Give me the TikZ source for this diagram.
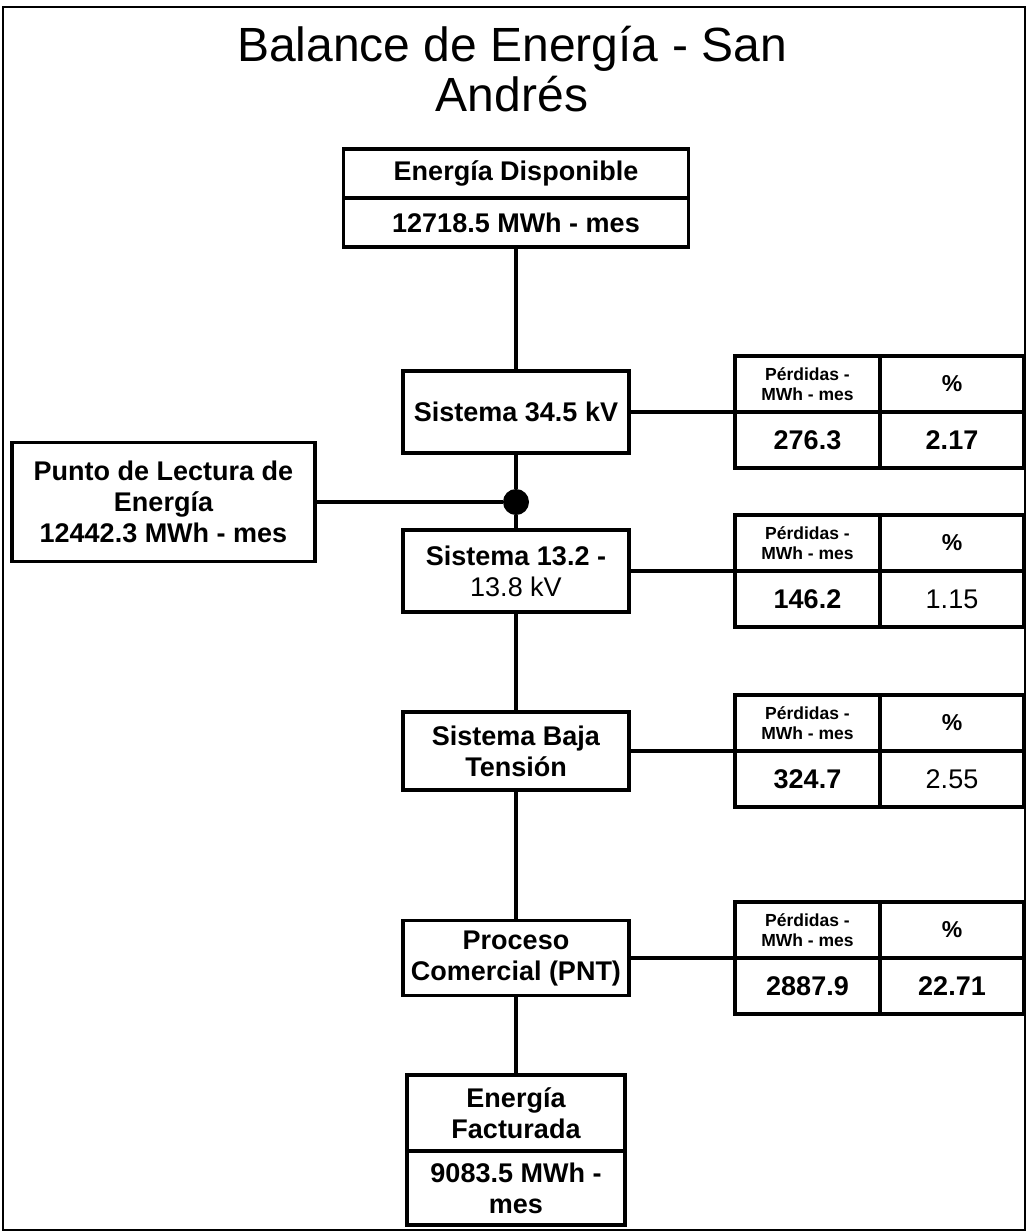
\documentclass[tikz,border=0pt]{standalone}
\usepackage{fontspec}
\setmainfont{Liberation Sans}

\begin{document}
\begin{tikzpicture}[x=1pt, y=-1pt,
    caja/.style={draw, line width=3.5pt, align=center, inner sep=0pt, outer sep=0pt,
      minimum width=226pt, font=\bfseries\fontsize{27}{31}\selectfont},
    celda/.style={draw, line width=3.5pt, align=center, inner sep=0pt, outer sep=0pt,
      minimum width=145pt, minimum height=56pt},
    linea/.style={line width=4.5pt}]
  \useasboundingbox (0,0) rectangle (1027,1232);
  \draw[line width=1.5pt] (3,7) rectangle (1025,1230);

  % titulo
  \node[align=center, font=\fontsize{48}{50}\selectfont] (titulo) at (512,69)
    {Balance de Energía - San\\Andrés};

  % columna central
  \node[caja, minimum width=345pt, minimum height=49pt] (disp1) at (516,173.5) {Energía Disponible};
  \node[caja, minimum width=345pt, minimum height=49pt] (disp2) at (516,222.5) {12718.5 MWh - mes};
  \node[caja, minimum height=82pt] (s345) at (516,412) {Sistema 34.5 kV};
  \node[caja, minimum height=82pt] (s132) at (516,571) {Sistema 13.2 -\\{\mdseries 13.8 kV}};
  \node[caja, minimum height=78pt] (baja) at (516,751) {Sistema Baja\\Tensión};
  \node[caja, minimum height=75pt] (proc) at (516,958) {Proceso\\Comercial (PNT)};
  \node[caja, minimum width=218pt, minimum height=76pt] (fact1) at (516,1113) {Energía\\Facturada};
  \node[caja, minimum width=218pt, minimum height=74pt] (fact2) at (516,1188) {9083.5 MWh -\\mes};

  % punto de lectura
  \node[caja, minimum width=303pt, minimum height=119pt] (punto) at (163.5,502)
    {Punto de Lectura de\\Energía\\12442.3 MWh - mes};
  \node[circle, fill, minimum size=26pt, inner sep=0pt] (nodo) at (516,502) {};

  % tablas de perdidas
  \foreach \n/\t/\perd/\pct in {a/356/276.3/2.17, b/515/146.2/\mdseries 1.15,
                                c/695/324.7/\mdseries 2.55, d/902/2887.9/22.71} {
    \node[celda, font=\bfseries\fontsize{17.5}{20}\selectfont] (perd\n) at (807.5,\t+28) {Pérdidas -\\MWh - mes};
    \node[celda, minimum width=144pt, font=\bfseries\fontsize{23}{26}\selectfont] (pct\n) at (952,\t+28) {\%};
    \node[celda, font=\bfseries\fontsize{27}{30}\selectfont] (vperd\n) at (807.5,\t+84) {\perd};
    \node[celda, minimum width=144pt, font=\bfseries\fontsize{27}{30}\selectfont] (vpct\n) at (952,\t+84) {\pct};
  }

  % conexiones
  \draw[linea] (disp2.south) -- (s345.north);
  \draw[linea] (s345.south) -- (nodo) -- (s132.north);
  \draw[linea] (punto.east) -- (nodo);
  \draw[linea] (s132.south) -- (baja.north);
  \draw[linea] (baja.south) -- (proc.north);
  \draw[linea] (proc.south) -- (fact1.north);
  \draw[linea] (s345.east) -- (perda.south west);
  \draw[linea] (s132.east) -- (perdb.south west);
  \draw[linea] (baja.east) -- (perdc.south west);
  \draw[linea] (proc.east) -- (perdd.south west);
\end{tikzpicture}
\end{document}
